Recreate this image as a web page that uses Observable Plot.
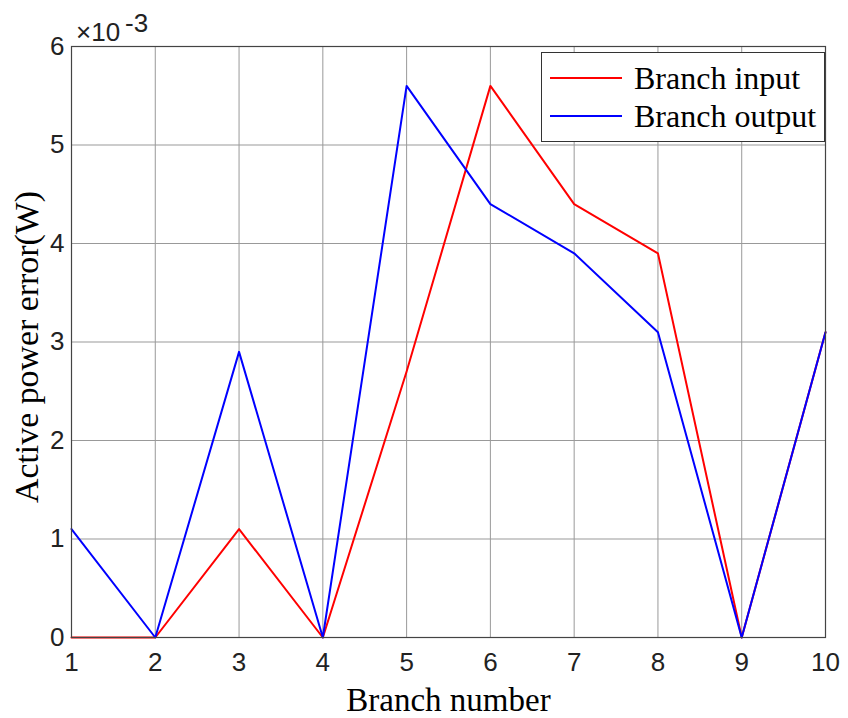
<!DOCTYPE html>
<html><head><meta charset="utf-8">
<script src="https://cdn.jsdelivr.net/npm/d3@7"></script>
<script src="https://cdn.jsdelivr.net/npm/@observablehq/plot@0.6"></script>
<style>
body{margin:0;background:#fff;}
#wrap{position:relative;width:848px;height:718px;}
.leg{position:absolute;left:541px;top:52px;width:284px;height:90px;border:1px solid #333;background:#fff;box-sizing:border-box;font-family:"Liberation Serif","Times New Roman",serif;font-size:32px;color:#000;}
.row{position:absolute;left:0;display:flex;align-items:center;height:38px;}
.sw{width:72px;height:2px;margin-left:8px;margin-right:12px;}
.exp{position:absolute;left:76px;top:17px;font-family:"Liberation Sans",Arial,sans-serif;font-size:26px;color:#222;line-height:30px;}
</style></head>
<body><div id="wrap"></div>
<script>
const branches = [1,2,3,4,5,6,7,8,9,10];
const branchInput = [0,0,1.1,0,2.7,5.6,4.4,3.9,0,3.1];
const branchOutput = [1.1,0,2.9,0,5.6,4.4,3.9,3.1,0,3.1];
const seriesNames = ["Branch input","Branch output"];
const seriesColors = ["#ff0000","#0000ff"];
const yTicks = [0,1,2,3,4,5,6];

const data = [];
branches.forEach((b,i)=>{
  data.push({x:b,y:branchInput[i],s:seriesNames[0]});
  data.push({x:b,y:branchOutput[i],s:seriesNames[1]});
});

const serif = "'Liberation Serif','Times New Roman',serif";
const chart = Plot.plot({
  width:848, height:718,
  marginLeft:71, marginRight:23, marginTop:46, marginBottom:81,
  style:{fontFamily:"'Liberation Sans', Arial, sans-serif", fontSize:"26px", color:"#222", background:"#fff"},
  x:{domain:[1,10], ticks:branches, tickFormat:d=>String(d), label:null},
  y:{domain:[0,6], ticks:yTicks, tickFormat:d=>String(d), label:null},
  color:{domain:seriesNames, range:seriesColors},
  marks:[
    Plot.gridX(branches,{stroke:"#999", strokeOpacity:1, strokeWidth:1}),
    Plot.gridY(yTicks,{stroke:"#999", strokeOpacity:1, strokeWidth:1}),
    Plot.line(data,{x:"x",y:"y",z:"s",stroke:"s",strokeWidth:2}),
    Plot.frame({stroke:"#444", strokeWidth:1.2}),
    Plot.axisX(branches,{tickSize:0, tickPadding:15, fontSize:26, tickFormat:d=>String(d)}),
    Plot.axisY(yTicks,{tickSize:0, tickPadding:7, fontSize:26, tickFormat:d=>String(d)}),
    Plot.text(["Branch number"],{frameAnchor:"bottom", dy:73, fontSize:33, fontFamily:serif, fill:"#000", className:"xlab"}),
    Plot.text(["Active power error(W)"],{frameAnchor:"left", dx:-44, dy:5, rotate:-90, textAnchor:"middle", fontSize:34, fontFamily:serif, fill:"#000", className:"ylab"})
  ]
});
const wrap = document.getElementById("wrap");
wrap.appendChild(chart);
// the reference is slightly stretched vertically: stretch the rotated label along its length
const yl = chart.querySelector("g.ylab text");
if (yl) { yl.setAttribute("textLength","312"); yl.setAttribute("lengthAdjust","spacingAndGlyphs"); }

const exp = document.createElement("div");
exp.className="exp";
exp.innerHTML = "×10<span style='position:relative;top:-9px;margin-left:5px'>-3</span>";
wrap.appendChild(exp);

const leg = document.createElement("div");
leg.className="leg";
seriesNames.forEach((n,i)=>{
  const r=document.createElement("div");
  r.className="row";
  r.style.top=(6+i*38)+"px";
  r.innerHTML=`<span class="sw" style="background:${seriesColors[i]}"></span><span>${n}</span>`;
  leg.appendChild(r);
});
wrap.appendChild(leg);
</script></body></html>
